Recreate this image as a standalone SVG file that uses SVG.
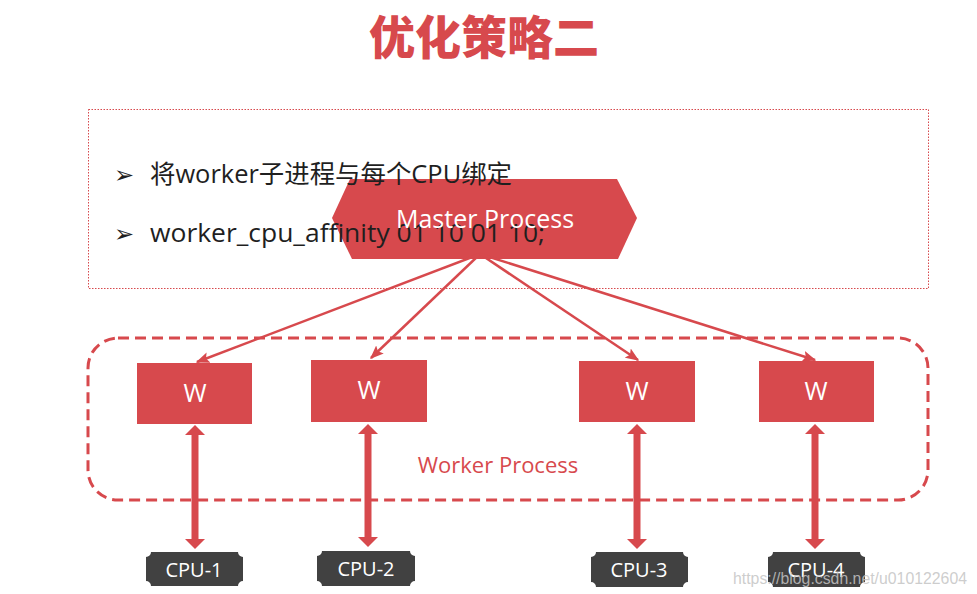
<svg xmlns="http://www.w3.org/2000/svg" width="977" height="594" viewBox="0 0 977 594">
  <style>
    .red { fill: #d7494d; }
    .title { font-family: "Noto Sans CJK SC", "Noto Sans", sans-serif; font-weight: 900; font-size: 46px; fill: #d7494d; }
    .bullet { font-family: "Open Sans", "Noto Sans CJK SC", sans-serif; font-size: 25.5px; fill: #1f1f1f; }
    .mark { font-family: "DejaVu Sans", sans-serif; font-size: 24px; fill: #1f1f1f; }
    .wtxt { font-family: "Open Sans", sans-serif; font-size: 25px; fill: #ffffff; text-anchor: middle; }
    .cpu { fill: #414141; }
    .cputxt { font-family: "Open Sans", sans-serif; font-size: 20px; fill: #ffffff; text-anchor: middle; }
    .fan { stroke: #d7494d; stroke-width: 2.5; fill: none; marker-end: url(#tip); }
    .dbl { stroke: #d7494d; stroke-width: 7; fill: none; marker-start: url(#bigStart); marker-end: url(#bigEnd); }
  </style>
  <defs>
    <marker id="tip" viewBox="0 0 10 8" refX="9" refY="4" markerWidth="5.5" markerHeight="4.4" orient="auto" markerUnits="strokeWidth">
      <path d="M0,0 L10,4 L0,8 L2,4 Z" fill="#d7494d"/>
    </marker>
    <marker id="bigEnd" viewBox="0 0 10 20" refX="1" refY="10" markerWidth="10" markerHeight="20" orient="auto" markerUnits="userSpaceOnUse">
      <path d="M0,0 L10,10 L0,20 Z" fill="#d7494d"/>
    </marker>
    <marker id="bigStart" viewBox="0 0 10 20" refX="9" refY="10" markerWidth="10" markerHeight="20" orient="auto" markerUnits="userSpaceOnUse">
      <path d="M10,0 L0,10 L10,20 Z" fill="#d7494d"/>
    </marker>
  </defs>

  <rect width="977" height="594" fill="#ffffff"/>

  <!-- heading -->
  <text class="title" x="484" y="54" text-anchor="middle">优化策略二</text>

  <!-- notes frame -->
  <rect x="88.5" y="109.5" width="840" height="179" fill="none" stroke="#d7494d" stroke-width="1" stroke-dasharray="1.5 1.5"/>

  <!-- master node -->
  <g id="master">
    <polygon class="red" points="350,179 617,179 637,218 618,259 352,259 332,218"/>
  </g>

  <!-- notes -->
  <g id="notes">
    <text class="mark" x="114" y="183">➢</text>
    <text class="bullet" x="150" y="183" textLength="362" lengthAdjust="spacingAndGlyphs">将worker子进程与每个CPU绑定</text>
    <text class="mark" x="114" y="242">➢</text>
    <text class="bullet" x="150" y="242" textLength="395" lengthAdjust="spacingAndGlyphs">worker_cpu_affinity 01 10 01 10;</text>
  </g>
  <text id="master-label" class="wtxt" x="485" y="228" font-size="25.5">Master Process</text>

  <!-- worker group frame -->
  <g id="worker-group">
    <rect x="88" y="338" width="840" height="162" rx="30" ry="30" fill="none" stroke="#d7494d" stroke-width="3" stroke-dasharray="11 6"/>
    <text x="498" y="473" text-anchor="middle" font-family="Open Sans, sans-serif" font-size="22" fill="#d7494d">Worker Process</text>
  </g>

  <!-- workers -->
  <g id="w1"><rect class="red" x="137" y="363" width="115" height="61"/><text class="wtxt" x="195" y="402">W</text></g>
  <g id="w2"><rect class="red" x="311" y="360" width="116" height="62"/><text class="wtxt" x="369" y="399">W</text></g>
  <g id="w3"><rect class="red" x="579" y="361" width="116" height="61"/><text class="wtxt" x="637" y="400">W</text></g>
  <g id="w4"><rect class="red" x="759" y="361" width="115" height="61"/><text class="wtxt" x="816" y="400">W</text></g>

  <!-- cpus -->
  <g id="cpu1"><path class="cpu" d="M151,552 H238 A5,5 0 0 0 243,557 V581 A5,5 0 0 0 238,586 H151 A5,5 0 0 0 146,581 V557 A5,5 0 0 0 151,552 Z"/><text class="cputxt" x="194" y="577">CPU-1</text></g>
  <g id="cpu2"><path class="cpu" d="M322,551 H410 A5,5 0 0 0 415,556 V581 A5,5 0 0 0 410,586 H322 A5,5 0 0 0 317,581 V556 A5,5 0 0 0 322,551 Z"/><text class="cputxt" x="366" y="576">CPU-2</text></g>
  <g id="cpu3"><path class="cpu" d="M596,552 H683 A5,5 0 0 0 688,557 V582 A5,5 0 0 0 683,587 H596 A5,5 0 0 0 591,582 V557 A5,5 0 0 0 596,552 Z"/><text class="cputxt" x="639" y="577">CPU-3</text></g>
  <g id="cpu4"><path class="cpu" d="M773,552 H860 A5,5 0 0 0 865,557 V582 A5,5 0 0 0 860,587 H773 A5,5 0 0 0 768,582 V557 A5,5 0 0 0 773,552 Z"/><text class="cputxt" x="816" y="577">CPU-4</text></g>

  <!-- connectors -->
  <g id="connectors">
    <line class="fan" x1="480" y1="254" x2="197" y2="362"/>
    <line class="fan" x1="480" y1="254" x2="371" y2="358"/>
    <line class="fan" x1="480" y1="254" x2="638" y2="360"/>
    <line class="fan" x1="480" y1="254" x2="815" y2="360"/>
    <line class="dbl" x1="195" y1="434" x2="195" y2="540"/>
    <line class="dbl" x1="368" y1="433" x2="368" y2="538"/>
    <line class="dbl" x1="637" y1="433" x2="637" y2="540"/>
    <line class="dbl" x1="815" y1="433" x2="815" y2="540"/>
  </g>

  <!-- site mark -->
  <text x="733" y="584" font-family="Liberation Sans, Arial, sans-serif" font-size="16.5" fill="#c4c4c4" fill-opacity="0.85" textLength="234" lengthAdjust="spacingAndGlyphs">https://blog.csdn.net/u010122604</text>
</svg>
